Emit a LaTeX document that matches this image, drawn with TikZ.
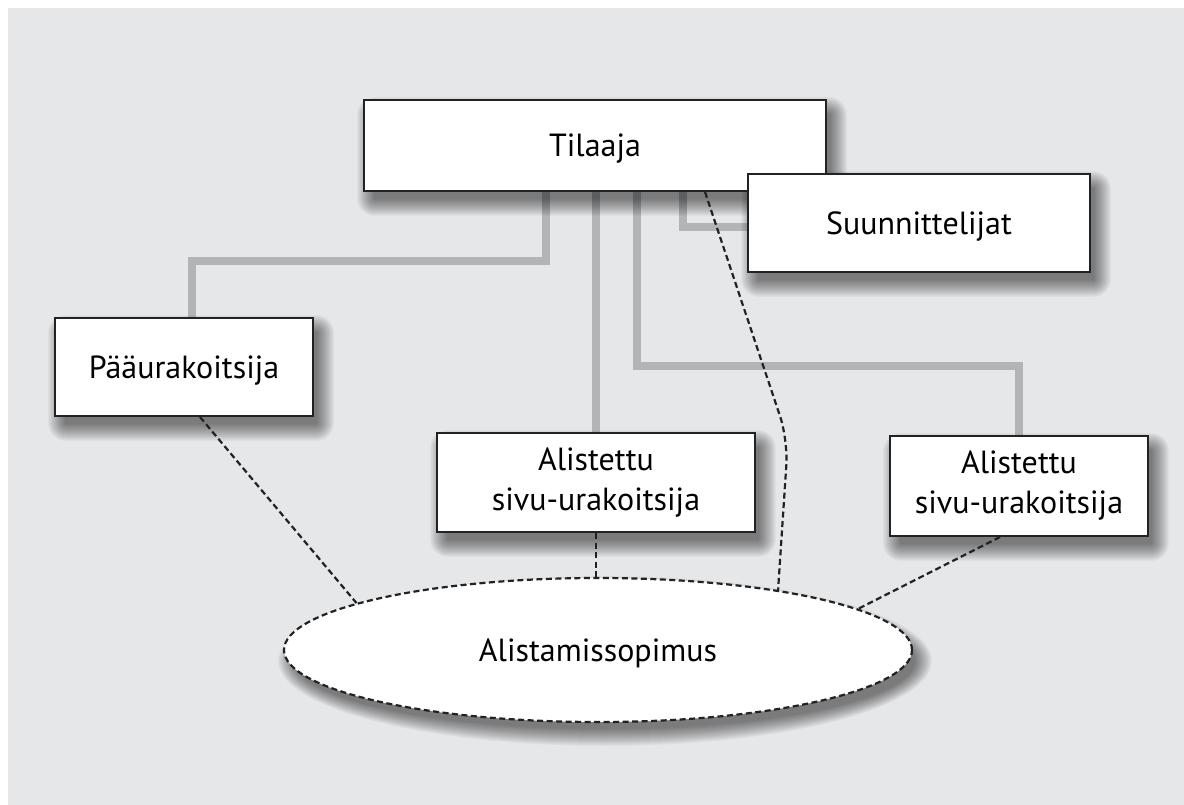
\documentclass[tikz,border=0pt]{standalone}
\usepackage{fontspec}
\setmainfont{PT Sans}
\usetikzlibrary{shapes.geometric}
\pgfdeclarelayer{bgl}
\pgfdeclarelayer{lines}
\pgfdeclarelayer{shad}
\pgfdeclarelayer{dash}
\pgfsetlayers{bgl,lines,shad,dash,main}
\definecolor{bg}{HTML}{E6E7E9}
\definecolor{gline}{HTML}{B3B4B6}
\definecolor{ink}{HTML}{222222}
\tikzset{
  boxnode/.style={draw=ink, line width=2pt, fill=white, rectangle, align=center,
    font=\fontsize{32}{40}\selectfont, inner sep=0pt},
  oneline/.style={text depth=0pt},
  ellnode/.style={draw=ink, line width=2.2pt, dash pattern=on 6pt off 3.5pt, fill=white, ellipse,
    font=\fontsize{32}{40}\selectfont, inner sep=0pt, text depth=0pt},
  grayline/.style={draw=gline, line width=7.5pt},
  dashline/.style={draw=ink, line width=2.2pt, dash pattern=on 6pt off 3.5pt},
  shadlayer/.style={black, opacity=0.033}
}
% soft shadow behind a rectangular node
\newcommand{\boxshadow}[1]{%
  \begin{pgfonlayer}{shad}
    \foreach \r in {-4,...,13}{%
      \fill[shadlayer, rounded corners=\r pt+5pt]
        ([xshift=7pt-\r pt, yshift=-11pt-\r pt]#1.south west) rectangle
        ([xshift=7pt+\r pt, yshift=-11pt+\r pt]#1.north east);
    }%
  \end{pgfonlayer}}
\begin{document}
\begin{tikzpicture}[x=1pt,y=-1pt]
\useasboundingbox (0,0) rectangle (1184,805);
\begin{pgfonlayer}{bgl}
\fill[white] (0,0) rectangle (1184,805);
\fill[bg] (8,8) rectangle (1184,805);
\end{pgfonlayer}

% boxes
\node[boxnode, oneline, minimum width=462pt, minimum height=91pt] (tilaaja) at (595,145.5) {Tilaaja};
\node[boxnode, oneline, minimum width=342pt, minimum height=98pt] (suun) at (919,223) {Suunnittelijat};
\node[boxnode, oneline, minimum width=258pt, minimum height=98pt] (paa) at (184,367) {Pääurakoitsija};
\node[boxnode, minimum width=318pt, minimum height=99pt] (mid) at (596,482.5) {Alistettu\\sivu-urakoitsija};
\node[boxnode, minimum width=258pt, minimum height=100pt] (rgt) at (1019,486) {Alistettu\\sivu-urakoitsija};
\node[ellnode, minimum width=628pt, minimum height=144pt] (ell) at (598,650) {Alistamissopimus};

\boxshadow{tilaaja}
\boxshadow{suun}
\boxshadow{paa}
\boxshadow{mid}
\boxshadow{rgt}
\begin{pgfonlayer}{shad}
  \foreach \r in {-4,...,13}{%
    \fill[shadlayer] ([xshift=7pt, yshift=-11pt]ell.center) ellipse [x radius=314pt+\r pt, y radius=-72pt-\r pt];
  }
\end{pgfonlayer}

% gray connectors
\begin{pgfonlayer}{lines}
\draw[grayline] ([xshift=-49pt]tilaaja.south) -- ++(0,69) -| ([xshift=8pt]paa.north);
\draw[grayline] (tilaaja.south -| mid.north) -- (mid.north);
\draw[grayline] ([xshift=42pt]tilaaja.south) -- ++(0,174) -| (rgt.north);
\draw[grayline] ([xshift=88pt]tilaaja.south) |- ([yshift=-4pt]suun.west);
\end{pgfonlayer}

% dashed connectors
\begin{pgfonlayer}{dash}
\coordinate (bend) at (788,440);
\coordinate (eend) at ([xshift=180pt,yshift=59pt]ell.center);
\draw[dashline] ([xshift=16pt]paa.south) -- (ell.169.6);
\draw[dashline] (mid.south) -- (mid.south |- ell.north);
\draw[dashline, rounded corners=25pt] ([xshift=110pt]tilaaja.south) -- (bend) -- (eend);
\draw[dashline] ([xshift=-19pt]rgt.south) -- (ell.9.6);
\end{pgfonlayer}
\end{tikzpicture}
\end{document}
